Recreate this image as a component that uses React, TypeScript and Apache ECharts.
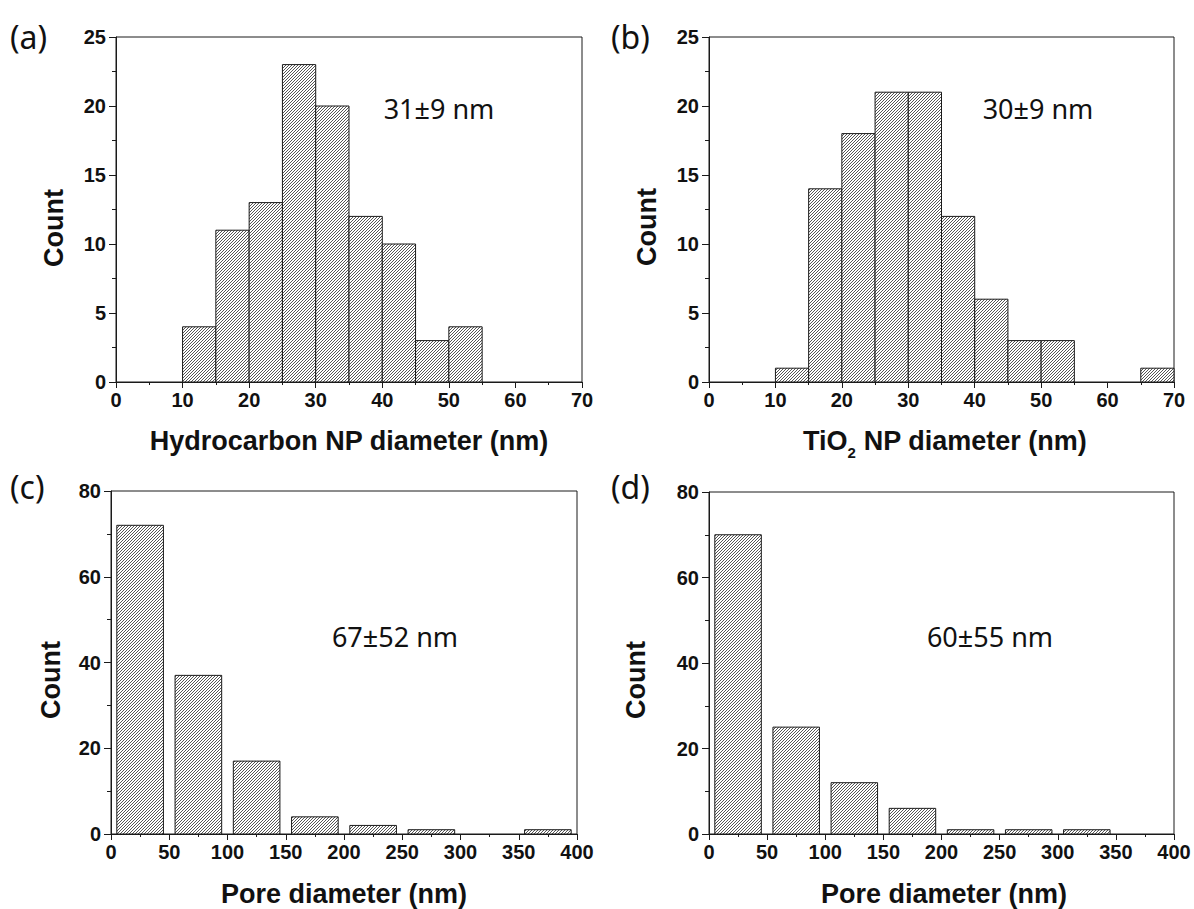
import React, { useEffect, useRef } from 'react';
import * as echarts from 'echarts';

// ---- data ----
// (a) Hydrocarbon NP diameter histogram, bin starts (nm) and counts, bin width 5 nm
const binStartA = [10, 15, 20, 25, 30, 35, 40, 45, 50];
const countsA = [4, 11, 13, 23, 20, 12, 10, 3, 4];
// (b) TiO2 NP diameter histogram
const binStartB = [10, 15, 20, 25, 30, 35, 40, 45, 50, 65];
const countsB = [1, 14, 18, 21, 21, 12, 6, 3, 3, 1];
// (c) Pore diameter histogram, bin centres (nm) and counts
const binCenterC = [25, 75, 125, 175, 225, 275, 375];
const countsC = [72, 37, 17, 4, 2, 1, 1];
// (d) Pore diameter histogram
const binCenterD = [25, 75, 125, 175, 225, 275, 325];
const countsD = [70, 25, 12, 6, 1, 1, 1];

const binWidthNP = 5;
const barWidthPore = 40;

// axis ranges / tick steps
const xRangeNP = [0, 70];
const xStepNP = 10;
const yRangeNP = [0, 25];
const yStepNP = 5;
const xRangePore = [0, 400];
const xStepPore = 50;
const yRangePore = [0, 80];
const yStepPore = 20;

// annotation texts
const panelLabels = ['(a)', '(b)', '(c)', '(d)'];
const meanTexts = ['31±9 nm', '30±9 nm', '67±52 nm', '60±55 nm'];
const xTitles = ['Hydrocarbon NP diameter (nm)', 'TiO{s|2} NP diameter (nm)', 'Pore diameter (nm)', 'Pore diameter (nm)'];
const yTitle = 'Count';

const BOLD_FONT = "'Liberation Sans', Arial, Helvetica, sans-serif";
const ANN_FONT = "'Noto Sans', 'Open Sans', sans-serif";
const INK = '#1a1a1a';

function makeHatch() {
  const n = 3;
  const c = document.createElement('canvas');
  c.width = n;
  c.height = n;
  const ctx = c.getContext('2d')!;
  ctx.fillStyle = '#ffffff';
  ctx.fillRect(0, 0, n, n);
  ctx.fillStyle = '#555555';
  for (let i = 0; i < n; i++) ctx.fillRect(i, n - 1 - i, 1, 1);
  return c;
}

export default function App() {
  const ref = useRef<HTMLDivElement>(null);

  useEffect(() => {
    if (!ref.current) return;
    const chart = echarts.init(ref.current, null, { renderer: 'svg' });
    const hatch = { image: makeHatch(), repeat: 'repeat' };

    const grids = [
      { left: 116, top: 37, width: 466, height: 345 },
      { left: 709, top: 37, width: 465, height: 345 },
      { left: 111, top: 491, width: 466, height: 343 },
      { left: 709, top: 492, width: 465, height: 342 },
    ].map((g) => ({ ...g, show: true, borderColor: INK, borderWidth: 1, backgroundColor: 'transparent' }));

    const labelStyle = { fontFamily: BOLD_FONT, fontWeight: 'bold', fontSize: 20, color: '#111' };

    const mkX = (gi: number, range: number[], step: number) => ({
      type: 'value', gridIndex: gi, min: range[0], max: range[1], interval: step,
      axisLine: { show: true, onZero: false, lineStyle: { color: INK, width: 1 } },
      axisTick: { show: true, length: 6, lineStyle: { color: INK } },
      minorTick: { show: true, splitNumber: 2, length: 3, lineStyle: { color: INK } },
      splitLine: { show: false }, minorSplitLine: { show: false },
      axisLabel: { ...labelStyle, margin: 8 },
    });
    const mkY = (gi: number, range: number[], step: number) => ({
      type: 'value', gridIndex: gi, min: range[0], max: range[1], interval: step,
      axisLine: { show: true, onZero: false, lineStyle: { color: INK, width: 1 } },
      axisTick: { show: true, length: 7, lineStyle: { color: INK } },
      minorTick: { show: true, splitNumber: 2, length: 4, lineStyle: { color: INK } },
      splitLine: { show: false }, minorSplitLine: { show: false },
      axisLabel: { ...labelStyle, margin: 10 },
    });

    const renderItem = (params: any, api: any) => {
      const x0 = api.value(0), x1 = api.value(1), y = api.value(2);
      const p0 = api.coord([x0, y]);
      const p1 = api.coord([x1, 0]);
      return {
        type: 'rect',
        shape: { x: p0[0], y: p0[1], width: p1[0] - p0[0], height: p1[1] - p0[1] },
        style: { fill: hatch, stroke: INK, lineWidth: 1 },
      };
    };

    const npData = (starts: number[], counts: number[]) =>
      starts.map((s, i) => [s, s + binWidthNP, counts[i]]);
    const poreData = (centers: number[], counts: number[]) =>
      centers.map((c, i) => [c - barWidthPore / 2, c + barWidthPore / 2, counts[i]]);

    const mkSeries = (gi: number, data: number[][]) => ({
      type: 'custom', xAxisIndex: gi, yAxisIndex: gi, renderItem, data,
      encode: { x: [0, 1], y: 2 }, silent: true,
    });

    const labelPos = [[10, 36], [611, 36], [10, 486], [611, 486]];
    const meanPos = [[439, 108], [1038, 108], [395, 636], [990, 636]];
    const xTitlePos = [[349, 441], [945, 441], [344, 894], [944, 894]];
    const yTitlePos = [[54, 228], [647, 227], [51, 680], [636, 680]];

    const graphic: any[] = [];
    for (let i = 0; i < 4; i++) {
      graphic.push({
        type: 'text', x: labelPos[i][0], y: labelPos[i][1],
        style: { text: panelLabels[i], fontFamily: ANN_FONT, fontSize: 32, fill: '#111', align: 'left', verticalAlign: 'middle' },
      });
      graphic.push({
        type: 'text', x: meanPos[i][0], y: meanPos[i][1],
        style: { text: meanTexts[i], fontFamily: ANN_FONT, fontSize: 27, fill: '#111', align: 'center', verticalAlign: 'middle' },
      });
      graphic.push({
        type: 'text', x: xTitlePos[i][0], y: xTitlePos[i][1],
        style: {
          text: xTitles[i], fontFamily: BOLD_FONT, fontWeight: 'bold', fontSize: 27, fill: '#111',
          align: 'center', verticalAlign: 'middle',
          rich: { s: { fontFamily: BOLD_FONT, fontWeight: 'bold', fontSize: 15, fill: '#111', padding: [22, 0, 0, 0] } },
        },
      });
      graphic.push({
        type: 'text', x: yTitlePos[i][0], y: yTitlePos[i][1], rotation: Math.PI / 2,
        style: { text: yTitle, fontFamily: BOLD_FONT, fontWeight: 'bold', fontSize: 27, fill: '#111', align: 'center', verticalAlign: 'middle' },
      });
    }

    chart.setOption({
      animation: false,
      backgroundColor: '#ffffff',
      grid: grids,
      xAxis: [mkX(0, xRangeNP, xStepNP), mkX(1, xRangeNP, xStepNP), mkX(2, xRangePore, xStepPore), mkX(3, xRangePore, xStepPore)],
      yAxis: [mkY(0, yRangeNP, yStepNP), mkY(1, yRangeNP, yStepNP), mkY(2, yRangePore, yStepPore), mkY(3, yRangePore, yStepPore)],
      series: [
        mkSeries(0, npData(binStartA, countsA)),
        mkSeries(1, npData(binStartB, countsB)),
        mkSeries(2, poreData(binCenterC, countsC)),
        mkSeries(3, poreData(binCenterD, countsD)),
      ],
      graphic,
    });

    return () => chart.dispose();
  }, []);

  return <div ref={ref} style={{ position: 'absolute', left: 0, top: 0, width: 1194, height: 909 }} />;
}
